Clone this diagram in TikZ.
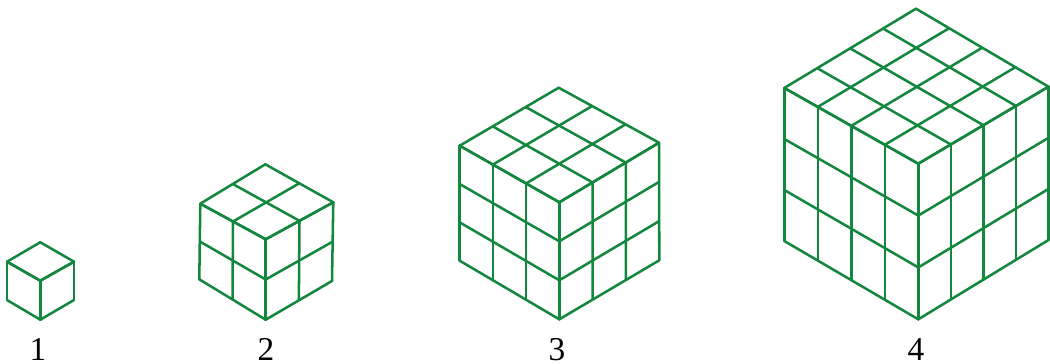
\documentclass[tikz,border=0pt]{standalone}
\usepackage{fontspec}
\setmainfont{Liberation Serif}
\usetikzlibrary{calc}
\definecolor{cubegreen}{RGB}{20,135,62}
\tikzset{
  cubeline/.style={draw=cubegreen,line width=1.9pt,line join=round,line cap=round},
  cubelabel/.style={font=\fontsize{25pt}{26pt}\selectfont,text=black,anchor=base,inner sep=0pt},
}
% #1 columns, #2 rows; uses the corners T, L, R, C, LB, RB, B
\newcommand{\cubegrid}[2]{%
  \foreach \i in {0,...,#1}{%
    \pgfmathsetmacro{\t}{\i/#1}
    \draw[cubeline] ($(T)!\t!(L)$) -- ($(R)!\t!(C)$);
    \draw[cubeline] ($(T)!\t!(R)$) -- ($(L)!\t!(C)$);
    \draw[cubeline] ($(L)!\t!(C)$) -- ($(LB)!\t!(B)$);
    \draw[cubeline] ($(C)!\t!(R)$) -- ($(B)!\t!(RB)$);
  }
  \foreach \j in {0,...,#2}{%
    \pgfmathsetmacro{\t}{\j/#2}
    \draw[cubeline] ($(L)!\t!(LB)$) -- ($(C)!\t!(B)$);
    \draw[cubeline] ($(C)!\t!(B)$) -- ($(R)!\t!(RB)$);
  }
}
\begin{document}
\begin{tikzpicture}[x=0.75pt,y=-0.75pt]
\useasboundingbox (0,0) rectangle (1050,364);
% cube 1
\begin{scope}
\coordinate (T) at (40.3,242.3); \coordinate (L) at (7,261.7); \coordinate (R) at (74,261.7);
\coordinate (C) at (40.3,280.7); \coordinate (LB) at (7,300); \coordinate (RB) at (74,300); \coordinate (B) at (40.3,319.7);
\cubegrid{1}{1}
\end{scope}
% cube 2
\begin{scope}
\coordinate (T) at (265.3,164.3); \coordinate (L) at (200.3,203.7); \coordinate (R) at (333.3,202.3);
\coordinate (C) at (265.7,239.3); \coordinate (LB) at (199.3,279.3); \coordinate (RB) at (332,281); \coordinate (B) at (265.7,319.7);
\cubegrid{2}{2}
\end{scope}
% cube 3
\begin{scope}
\coordinate (T) at (558.7,87.7); \coordinate (L) at (459.7,145.7); \coordinate (R) at (659,142.7);
\coordinate (C) at (559.3,202.3); \coordinate (LB) at (459.7,260.7); \coordinate (RB) at (659.3,260.3); \coordinate (B) at (559.3,319.3);
\cubegrid{3}{3}
\end{scope}
% cube 4
\begin{scope}
\coordinate (T) at (916,8.7); \coordinate (L) at (784.3,88); \coordinate (R) at (1048.5,86.7);
\coordinate (C) at (918.3,163.7); \coordinate (LB) at (784.3,241); \coordinate (RB) at (1048.5,240); \coordinate (B) at (918.3,319.3);
\cubegrid{4}{3}
\end{scope}
\node[cubelabel] (n1) at (38,360.5) {1};
\node[cubelabel] (n2) at (266,360.5) {2};
\node[cubelabel] (n3) at (557,360.5) {3};
\node[cubelabel] (n4) at (916,360.5) {4};
\end{tikzpicture}
\end{document}
